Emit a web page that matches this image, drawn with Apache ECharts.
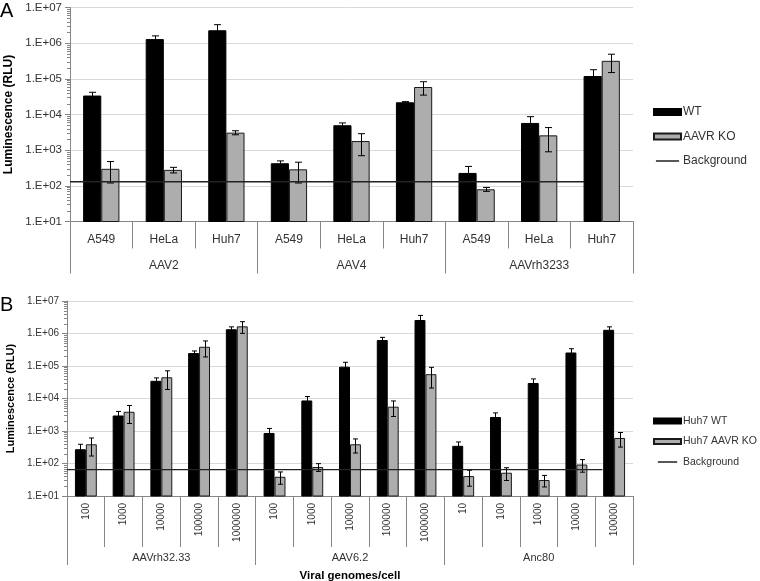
<!DOCTYPE html>
<html><head><meta charset="utf-8">
<script src="https://cdn.jsdelivr.net/npm/echarts@6/dist/echarts.min.js"></script>
<style>html,body{margin:0;padding:0;background:#fff}#c{width:760px;height:581px}</style>
</head><body><div id="c"></div>
<script>
// ---------- Panel A data ----------
const catsA = ['A549','HeLa','Huh7','A549','HeLa','Huh7','A549','HeLa','Huh7'];
const groupsA = ['AAV2','AAV4','AAVrh3233'];
const wtA    = [34000, 1300000, 2300000, 430, 5000, 22000, 230, 5800, 120000];
const wtErrA = [8000, 300000, 1000000, 70, 800, 1000, 120, 2900, 60000];
const koA    = [300, 280, 3100, 290, 1800, 59000, 80, 2600, 320000];
const koErrA = [180, 50, 400, 170, 1100, 24000, 10, 1700, 170000];
const bgA = 130;
const bgSpanA = [0, 0.913];

// ---------- Panel B data ----------
const catsB = ['100','1000','10000','100000','1000000','100','1000','10000','100000','1000000','10','100','1000','10000','100000'];
const groupsB = ['AAVrh32.33','AAV6.2','Anc80'];
const wtB    = [275, 3000, 35000, 250000, 1350000, 870, 8700, 95000, 630000, 2600000, 350, 2700, 30000, 260000, 1300000];
const wtErrB = [115, 1000, 8000, 40000, 250000, 330, 2800, 35000, 130000, 1000000, 110, 900, 10000, 80000, 300000];
const koB    = [390, 3900, 45000, 390000, 1660000, 39, 78, 390, 5600, 56000, 41, 52, 31, 93, 610];
const koErrB = [220, 2200, 26000, 200000, 650000, 16, 21, 180, 2800, 35000, 21, 22, 12, 39, 290];
const bgB = 65;
const bgSpanB = [0, 0.946];

const FONT = 'Liberation Sans, Arial, sans-serif';
const GAP = 0.42;
const AX = '#868686';
const TXT = '#333';
const LINE_ICON = 'path://M0,2.6H27V4.4H0Z M0,0H0.01V7H0Z';

function errSeries(name, xi, yi, vals, errs, side, cap) {
  return {
    type: 'custom', name: name, xAxisIndex: xi, yAxisIndex: yi, z: 5, clip: false,
    encode: {x: 0, y: 1},
    data: vals.map((v, i) => [i, v, errs[i]]),
    renderItem: function (params, api) {
      const i = api.value(0), v = api.value(1), e = api.value(2);
      const band = api.size([1, 0])[0];
      const bw = band * (1 - GAP) / 2;
      const cx = Math.round(api.coord([i, v])[0] + side * bw / 2) + 0.5;
      const yTop = api.coord([i, v + e])[1];
      const yBot = (v - e > 0) ? api.coord([i, v - e])[1] : api.coord([i, v])[1];
      const st = {stroke: '#000', lineWidth: 1};
      return {type: 'group', children: [
        {type: 'line', shape: {x1: cx, y1: yTop, x2: cx, y2: yBot}, style: st},
        {type: 'line', shape: {x1: cx - cap, y1: yTop, x2: cx + cap, y2: yTop}, style: st},
        {type: 'line', shape: {x1: cx - cap, y1: yBot, x2: cx + cap, y2: yBot}, style: st}
      ]};
    }
  };
}

function minorTicks(xi, yi) {
  return {
    type: 'custom', xAxisIndex: xi, yAxisIndex: yi, clip: false, silent: true, z: 4,
    encode: {x: 0, y: 1},
    data: [[0, 10]],
    renderItem: function (params, api) {
      const x0 = params.coordSys.x;
      const kids = [];
      for (let d = 1; d < 7; d++) {
        for (let k = 2; k < 10; k++) {
          const y = Math.round(api.coord([0, k * Math.pow(10, d)])[1]) + 0.5;
          kids.push({type: 'line', shape: {x1: x0 - 3, y1: y, x2: x0, y2: y}, style: {stroke: AX, lineWidth: 1}});
        }
      }
      return {type: 'group', children: kids};
    }
  };
}

const fmt = v => '1.E+' + ('0' + Math.round(Math.log10(v))).slice(-2);

function yAxis(grid, fs, gap, nameFs) {
  return {
    type: 'log', logBase: 10, gridIndex: grid, min: 10, max: 10000000,
    name: 'Luminescence (RLU)', nameLocation: 'middle', nameGap: gap,
    nameTextStyle: {fontFamily: FONT, fontWeight: 'bold', fontSize: nameFs, color: '#000'},
    axisLine: {show: true, lineStyle: {color: AX}},
    axisTick: {show: true, length: 5, lineStyle: {color: AX}},
    axisLabel: {show: true, formatter: fmt, fontFamily: FONT, fontSize: fs, color: TXT, margin: 8},
    splitLine: {show: true, lineStyle: {color: '#d9d9d9'}},
    minorTick: {show: false}
  };
}

function catAxis(grid, data, tickLen, margin, fs, rotate, showLine) {
  return {
    type: 'category', gridIndex: grid, position: 'bottom', data: data, boundaryGap: true,
    axisLine: {show: showLine, lineStyle: {color: AX}},
    axisTick: {show: true, interval: 0, alignWithLabel: false, length: tickLen, lineStyle: {color: AX}},
    axisLabel: {show: true, interval: 0, rotate: rotate, margin: margin, fontFamily: FONT, fontSize: fs, color: TXT},
    splitLine: {show: false}
  };
}

const xB2 = catAxis(1, groupsB, 69, 56, 11, 0, false);
xB2.name = 'Viral genomes/cell';
xB2.nameLocation = 'middle';
xB2.nameGap = 74;
xB2.nameTextStyle = {fontFamily: FONT, fontWeight: 'bold', fontSize: 11.5, color: '#000'};

const option = {
  animation: false,
  backgroundColor: '#fff',
  title: [
    {text: 'A', left: 0, top: 1, padding: 0, textStyle: {fontFamily: FONT, fontSize: 20, fontWeight: 'normal', color: '#000'}},
    {text: 'B', left: 0, top: 295, padding: 0, textStyle: {fontFamily: FONT, fontSize: 20, fontWeight: 'normal', color: '#000'}}
  ],
  grid: [
    {left: 70, top: 7.5, width: 563, height: 214, containLabel: false, outerBoundsMode: 'none'},
    {left: 67, top: 301, width: 566, height: 195, containLabel: false, outerBoundsMode: 'none'}
  ],
  legend: [
    {orient: 'vertical', left: 653, top: 106, padding: 0, itemWidth: 27, itemHeight: 6, itemGap: 12.5,
     data: [{name: 'WT', icon: 'rect'}, {name: 'AAVR KO', icon: 'rect'}, {name: 'Background', icon: LINE_ICON}],
     textStyle: {fontFamily: FONT, fontSize: 12, color: TXT, padding: [0, 0, 0, -3]}},
    {orient: 'vertical', left: 653, top: 415.5, padding: 0, itemWidth: 27, itemHeight: 5, itemGap: 9.5,
     data: [{name: 'Huh7 WT', icon: 'rect'}, {name: 'Huh7 AAVR KO', icon: 'rect'}, {name: 'Background ', icon: LINE_ICON}],
     textStyle: {fontFamily: FONT, fontSize: 10.5, color: TXT, padding: [0, 0, 0, -3]}}
  ],
  xAxis: [
    catAxis(0, catsA, 27, 12, 12, 0, true),
    catAxis(0, groupsA, 52, 38, 12, 0, false),
    {type: 'value', gridIndex: 0, position: 'top', min: 0, max: 1, show: false},
    catAxis(1, catsB, 51, 7, 10, 90, true),
    xB2,
    {type: 'value', gridIndex: 1, position: 'top', min: 0, max: 1, show: false}
  ],
  yAxis: [yAxis(0, 11.5, 53, 12), yAxis(1, 10, 49, 11)],
  series: [
    {type: 'bar', name: 'WT', xAxisIndex: 0, yAxisIndex: 0, data: wtA, barGap: '0%', barCategoryGap: '42%', clip: true,
     itemStyle: {color: '#000', borderColor: '#000', borderWidth: 1}},
    {type: 'bar', name: 'AAVR KO', xAxisIndex: 0, yAxisIndex: 0, data: koA, barGap: '0%', barCategoryGap: '42%', clip: true,
     itemStyle: {color: '#adadad', borderColor: '#1a1a1a', borderWidth: 1}},
    errSeries('errWTA', 0, 0, wtA, wtErrA, -1, 3.5),
    errSeries('errKOA', 0, 0, koA, koErrA, 1, 3.5),
    {type: 'line', name: 'Background', xAxisIndex: 2, yAxisIndex: 0, z: 6, symbol: 'none', showSymbol: false,
     data: [[bgSpanA[0], bgA], [bgSpanA[1], bgA]], lineStyle: {color: '#222', width: 1.5}, itemStyle: {color: '#222'}},
    minorTicks(0, 0),

    {type: 'bar', name: 'Huh7 WT', xAxisIndex: 3, yAxisIndex: 1, data: wtB, barGap: '0%', barCategoryGap: '42%', clip: true,
     itemStyle: {color: '#000', borderColor: '#000', borderWidth: 1}},
    {type: 'bar', name: 'Huh7 AAVR KO', xAxisIndex: 3, yAxisIndex: 1, data: koB, barGap: '0%', barCategoryGap: '42%', clip: true,
     itemStyle: {color: '#adadad', borderColor: '#1a1a1a', borderWidth: 1}},
    errSeries('errWTB', 3, 1, wtB, wtErrB, -1, 2.5),
    errSeries('errKOB', 3, 1, koB, koErrB, 1, 2.5),
    {type: 'line', name: 'Background ', xAxisIndex: 5, yAxisIndex: 1, z: 6, symbol: 'none', showSymbol: false,
     data: [[bgSpanB[0], bgB], [bgSpanB[1], bgB]], lineStyle: {color: '#222', width: 1.2}, itemStyle: {color: '#222'}},
    minorTicks(3, 1)
  ]
};
const chart = echarts.init(document.getElementById('c'), null, {renderer: 'canvas'});
chart.setOption(option);
</script>
</body></html>
